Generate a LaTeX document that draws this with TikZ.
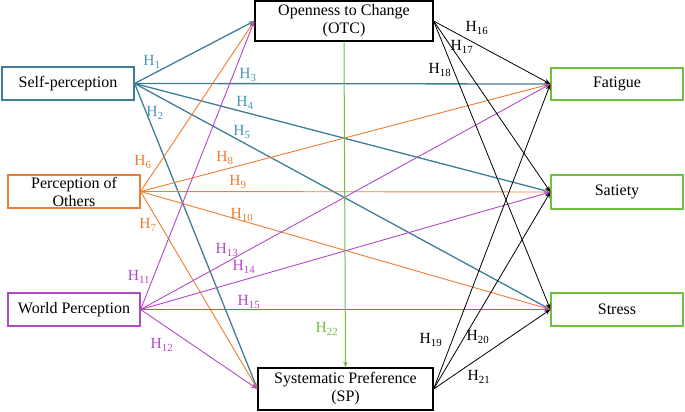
\documentclass[tikz,border=0pt]{standalone}
\usepackage{fontspec}
\setmainfont{Liberation Serif}
\usetikzlibrary{arrows.meta}

\definecolor{selfcol}{RGB}{62,126,150}
\definecolor{selflab}{RGB}{72,150,185}
\definecolor{othcol}{RGB}{237,125,49}
\definecolor{worldcol}{RGB}{177,72,199}
\definecolor{outcol}{RGB}{112,192,64}

\begin{document}
\begin{tikzpicture}[x=1pt, y=-1pt,
		box/.style={draw, line width=1.2pt, align=center, inner sep=0pt, font=\rmfamily\fontsize{16}{18}\selectfont},
		hyp/.style={inner sep=0pt, font=\rmfamily\fontsize{15.5}{17}\selectfont},
		arr/.style={-{Stealth[length=6pt, width=4.5pt]}}]
		
		\useasboundingbox (0,0) rectangle (685,412);
		
		% boxes
		\node[box, selfcol, text=black, minimum width=132pt, minimum height=33pt] (self) at (68,83.5) {Self-perception};
		\node[box, othcol, text=black, minimum width=132pt, minimum height=33pt] (others) at (74,191.5) {Perception of\\Others};
		\node[box, worldcol, text=black, minimum width=132pt, minimum height=33pt] (world) at (74,309.5) {World Perception};
		
		\node[box, black, minimum width=178pt, minimum height=40pt] (otc) at (344,21) {Openness to Change\\(OTC)};
		\node[box, black, minimum width=175pt, minimum height=42pt] (syspref) at (345.5,389) {Systematic Preference\\(SP)};
		
		\node[box, outcol, text=black, minimum width=132pt, minimum height=32pt] (fatigue) at (617,84) {Fatigue};
		\node[box, outcol, text=black, minimum width=132pt, minimum height=34pt] (satiety) at (617,192) {Satiety};
		\node[box, outcol, text=black, minimum width=132pt, minimum height=33pt] (stress) at (617,309.5) {Stress};
		
		% self-perception
		\draw[arr, selfcol, line width=1.3pt] (self.east) -- (otc.west);
		\draw[arr, selfcol, line width=1.3pt] (self.east) -- (syspref.west);
		\draw[arr, selfcol, line width=1.3pt] (self.east) -- (fatigue.west);
		\draw[arr, selfcol, line width=1.3pt] (self.east) -- (satiety.west);
		\draw[arr, selfcol, line width=1.3pt] (self.east) -- (stress.west);
		
		% perception of others
		\draw[arr, othcol, line width=0.9pt] (others.east) -- (otc.west);
		\draw[arr, othcol, line width=0.9pt] (others.east) -- (syspref.west);
		\draw[arr, othcol, line width=0.9pt] (others.east) -- (fatigue.west);
		\draw[arr, othcol, line width=0.9pt] (others.east) -- (satiety.west);
		\draw[arr, othcol, line width=0.9pt] (others.east) -- (stress.west);
		
		% world perception
		\draw[arr, worldcol, line width=0.9pt] (world.east) -- (otc.west);
		\draw[arr, worldcol, line width=0.9pt] (world.east) -- (syspref.west);
		\draw[arr, worldcol, line width=0.9pt] (world.east) -- (fatigue.west);
		\draw[arr, worldcol, line width=0.9pt] (world.east) -- (satiety.west);
		\draw[arr, worldcol, line width=0.9pt] (world.east) -- (stress.west);
		
		% mediators
		\draw[arr, black, line width=0.8pt] (otc.east) -- (fatigue.west);
		\draw[arr, black, line width=0.8pt] (otc.east) -- (satiety.west);
		\draw[arr, black, line width=0.8pt] (otc.east) -- (stress.west);
		\draw[arr, black, line width=0.8pt] (syspref.east) -- (fatigue.west);
		\draw[arr, black, line width=0.8pt] (syspref.east) -- (satiety.west);
		\draw[arr, black, line width=0.8pt] (syspref.east) -- (stress.west);
		
		\draw[arr, outcol, line width=1pt] (otc.south) -- (syspref.north);
		
		% hypotheses
		\node[hyp, selflab] (h1) at (152,62) {H\textsubscript{1}};
		\node[hyp, selflab] (h2) at (155,113) {H\textsubscript{2}};
		\node[hyp, selflab] (h3) at (248,75) {H\textsubscript{3}};
		\node[hyp, selflab] (h4) at (245,103) {H\textsubscript{4}};
		\node[hyp, selflab] (h5) at (242,132) {H\textsubscript{5}};
		
		\node[hyp, othcol] (h6) at (143,162) {H\textsubscript{6}};
		\node[hyp, othcol] (h7) at (148,225) {H\textsubscript{7}};
		\node[hyp, othcol] (h8) at (225,158) {H\textsubscript{8}};
		\node[hyp, othcol] (h9) at (238,182) {H\textsubscript{9}};
		\node[hyp, othcol] (h10) at (242,215) {H\textsubscript{10}};
		
		\node[hyp, worldcol] (h11) at (139,277) {H\textsubscript{11}};
		\node[hyp, worldcol] (h12) at (162,345) {H\textsubscript{12}};
		\node[hyp, worldcol] (h13) at (227,250) {H\textsubscript{13}};
		\node[hyp, worldcol] (h14) at (244,267) {H\textsubscript{14}};
		\node[hyp, worldcol] (h15) at (249,302) {H\textsubscript{15}};
		
		\node[hyp] (h16) at (477,28) {H\textsubscript{16}};
		\node[hyp] (h17) at (462,47) {H\textsubscript{17}};
		\node[hyp] (h18) at (440,70) {H\textsubscript{18}};
		\node[hyp] (h19) at (431,340) {H\textsubscript{19}};
		\node[hyp] (h20) at (478,337) {H\textsubscript{20}};
		\node[hyp] (h21) at (479,377) {H\textsubscript{21}};
		
		\node[hyp, outcol] (h22) at (327,329) {H\textsubscript{22}};
		
	\end{tikzpicture}
\end{document}
